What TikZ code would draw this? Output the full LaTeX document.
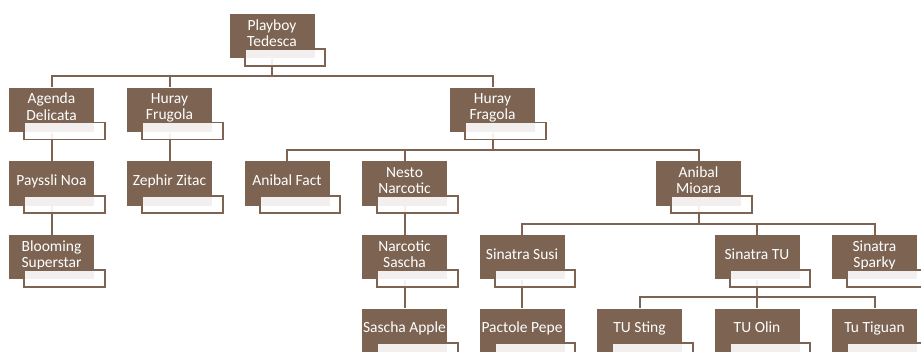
\documentclass[tikz,border=0pt]{standalone}
\usepackage{fontspec}
\setmainfont{Carlito}
\usepackage{tikz}
\usetikzlibrary{positioning}
\definecolor{bark}{RGB}{124,99,82}

\begin{document}
\begin{tikzpicture}[x=1pt,y=-1pt,node distance=73.6pt,semithick]
 \tikzstyle{member}=[fill=bark, text=white, minimum width=85pt, minimum height=44.5pt, inner sep=0pt, text depth=6.5pt, align=center, font=\fontsize{15.5}{16.5}\selectfont]
 \tikzstyle{tab}=[draw=bark, line width=1.9pt, fill=white, fill opacity=0.9]
 \tikzstyle{link}=[draw=bark, line width=2pt, to path={-- ++(0,17.5) -| (\tikztotarget)}]
 \useasboundingbox (0,0) rectangle (921,352);
 % top of the tree
 \node[member] (PT) at (272,36.2)   {Playboy\\Tedesca};
 \node[member] (AD) at (51.5,110)   {Agenda\\Delicata};
 \node[member] (HU) at (169.5,110)  {Huray\\Frugola};
 \node[member] (HF) at (492.5,110)  {Huray\\Fragola};
 \node[member] (PN) [below of=AD]   {Payssli Noa};
 \node[member] (BS) [below of=PN]   {Blooming\\Superstar};
 \node[member] (ZZ) [below of=HU]   {Zephir Zitac};
 \node[member] (AF) at (287,183.6)  {Anibal Fact};
 \node[member] (NN) at (404.5,183.6) {Nesto\\Narcotic};
 \node[member] (NS) [below of=NN]   {Narcotic\\Sascha};
 \node[member] (SA) [below of=NS]   {Sascha Apple};
 \node[member] (AM) at (698.5,183.6) {Anibal\\Mioara};
 % under Anibal Mioara
 \node[member] (SS) at (522,257.2)  {Sinatra Susi};
 \node[member] (PP) [below of=SS]   {Pactole Pepe};
 \node[member] (ST) at (757,257.2)  {Sinatra TU};
 \node[member] (SP) at (874.5,257.2) {Sinatra\\Sparky};
 \node[member] (TS) at (639.5,330.8) {TU Sting};
 \node[member] (TO) [below of=ST]   {TU Olin};
 \node[member] (TT) [below of=SP]   {Tu Tiguan};
 \path
 (PT.south) edge [link] (AD.north)
 (PT.south) edge [link] (HU.north)
 (PT.south) edge [link] (HF.north)
 (AD.south) edge [link] (PN.north)
 (PN.south) edge [link] (BS.north)
 (HU.south) edge [link] (ZZ.north)
 (HF.south) edge [link] (AF.north)
 (HF.south) edge [link] (NN.north)
 (HF.south) edge [link] (AM.north)
 (NN.south) edge [link] (NS.north)
 (NS.south) edge [link] (SA.north)
 (AM.south) edge [link] (SS.north)
 (AM.south) edge [link] (ST.north)
 (AM.south) edge [link] (SP.north)
 (SS.south) edge [link] (PP.north)
 (ST.south) edge [link] (TS.north)
 (ST.south) edge [link] (TO.north)
 (ST.south) edge [link] (TT.north);
 % name tabs
 \foreach \n in {PT,AD,HU,HF,PN,BS,ZZ,AF,NN,NS,SA,AM,SS,PP,ST,SP,TS,TO,TT}
   \draw[tab] ([xshift=15.5pt,yshift=-7pt]\n.south west) rectangle ([xshift=10.5pt,yshift=10pt]\n.south east);
\end{tikzpicture}
\end{document}
